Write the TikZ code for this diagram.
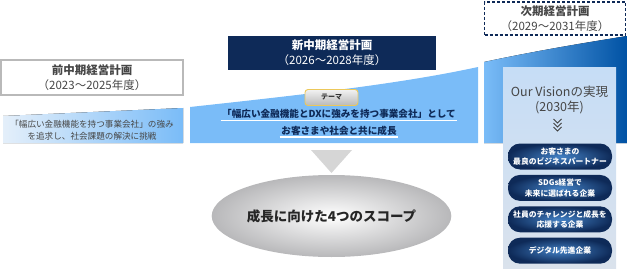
\documentclass[tikz,border=0pt]{standalone}
\usepackage{fontspec}
\setmainfont{Noto Sans CJK JP}
\definecolor{NavyDark}{RGB}{14, 42, 88}
\definecolor{PillGlow}{RGB}{66, 128, 196}
\definecolor{BandBlue}{RGB}{122, 188, 248}
\definecolor{BandPale}{RGB}{228, 239, 250}
\definecolor{BandDeep}{RGB}{0, 82, 164}
\definecolor{PanelTop}{RGB}{198, 221, 246}
\definecolor{PanelBot}{RGB}{218, 226, 236}
\definecolor{PlanGray}{RGB}{185, 185, 185}
\definecolor{TextGray}{RGB}{70, 70, 70}
\definecolor{ThemeGold}{RGB}{236, 200, 90}
\definecolor{ArrowGray}{RGB}{214, 214, 214}
\definecolor{ScopeGray}{RGB}{184, 184, 186}
\usetikzlibrary{positioning, shapes.geometric, shadings, calc}

\begin{document}
\begin{tikzpicture}[
    x=1pt, y=-1pt,
    every node/.style={align=center, inner sep=0pt},
    planbox/.style={draw=PlanGray, line width=1.5pt, fill=white, minimum width=182pt, minimum height=35pt, text=TextGray, font=\fontsize{11.5}{15}\selectfont},
    newplan/.style={fill=NavyDark, minimum width=208pt, minimum height=34pt, text=white, font=\fontsize{11.5}{15}\selectfont},
    nextplan/.style={draw=NavyDark, dash pattern=on 3pt off 2pt, line width=1.1pt, fill=white, minimum width=141pt, minimum height=33pt, text=TextGray, font=\fontsize{11.5}{15}\selectfont},
    themetag/.style={draw=ThemeGold, line width=0.9pt, rounded corners=3pt, top color=gray!10, bottom color=gray!55, minimum width=53pt, minimum height=16pt, font=\fontsize{7}{8}\selectfont\bfseries, text=black!80},
    themetext/.style={text=NavyDark, font=\fontsize{9.6}{12}\selectfont\bfseries, inner sep=1.5pt},
    underline/.style={white, line width=1.2pt},
    panel/.style={top color=PanelTop, bottom color=PanelBot, minimum width=113pt, minimum height=200pt},
    pill/.style={rounded corners=12pt, shading=radial, inner color=PillGlow, outer color=NavyDark, minimum width=104pt, minimum height=26pt, text=white, font=\fontsize{7.8}{10.5}\selectfont\bfseries},
    chevron/.style={black!75, line width=0.8pt},
    scope/.style={ellipse, shading=radial, inner color=white, outer color=ScopeGray, minimum width=207pt, minimum height=82pt, text=black!85, font=\fontsize{13.5}{16}\selectfont\bfseries}
]
\useasboundingbox (0,0) rectangle (627,270);
\fill[left color=BandPale, right color=BandBlue] (3,116) -- (183,108) -- (183,143) -- (3,143) -- cycle;
\fill[BandBlue] (190,107) .. controls (300,95) and (400,84) .. (478,67) -- (478,143) -- (190,143) -- cycle;
\fill[left color=BandBlue, right color=BandDeep] (484,62) .. controls (540,50) and (590,42) .. (627,36) -- (627,143) -- (484,143) -- cycle;

\node[planbox] (prev) at (92,77.5) {{\bfseries 前中期経営計画}\\（2023～2025年度）};
\node[newplan] (curr) at (332,53) {{\bfseries 新中期経営計画}\\（2026～2028年度）};
\node[nextplan] (next) at (555,18.5) {{\bfseries 次期経営計画}\\（2029～2031年度）};

\node[text=TextGray, font=\fontsize{8.6}{12}\selectfont] (prevgoal) at (92,130) {「幅広い金融機能を持つ事業会社」の強み\\を追求し、社会課題の解決に挑戦};

\node[themetag] (tag) at (331.5,97.5) {テーマ};
\node[themetext] (theme1) at (339,114) {「幅広い金融機能とDXに強みを持つ事業会社」として};
\node[themetext] (theme2) at (339,130.5) {お客さまや社会と共に成長};
\draw[underline] (theme1.south west) -- (theme1.south east);
\draw[underline] (theme2.south west) -- (theme2.south east);

\fill[ArrowGray] (311,150) -- (352,150) -- (331.5,173) -- cycle;
\node[scope] (scope) at (331.5,216) {成長に向けた4つのスコープ};

\node[panel] (vision) at (559.5,168) {};
\node[text=TextGray, font=\fontsize{12.5}{15}\selectfont] (visiontitle) at (559.5,99.5) {Our Visionの実現\\(2030年)};
\coordinate (chev) at (557.5,119);
\foreach \k in {0,1,2}
    \draw[chevron] ($(chev)+(-4,4*\k)$) -- ($(chev)+(0,4*\k+4)$) -- ($(chev)+(4,4*\k)$);

\node[pill] (goal1) at (560,156.5) {お客さまの\\最良のビジネスパートナー};
\node[pill, below=5pt of goal1] (goal2) {SDGs経営で\\未来に選ばれる企業};
\node[pill, below=5pt of goal2] (goal3) {社員のチャレンジと成長を\\応援する企業};
\node[pill, below=5pt of goal3] (goal4) {デジタル先進企業};
\end{tikzpicture}
\end{document}
